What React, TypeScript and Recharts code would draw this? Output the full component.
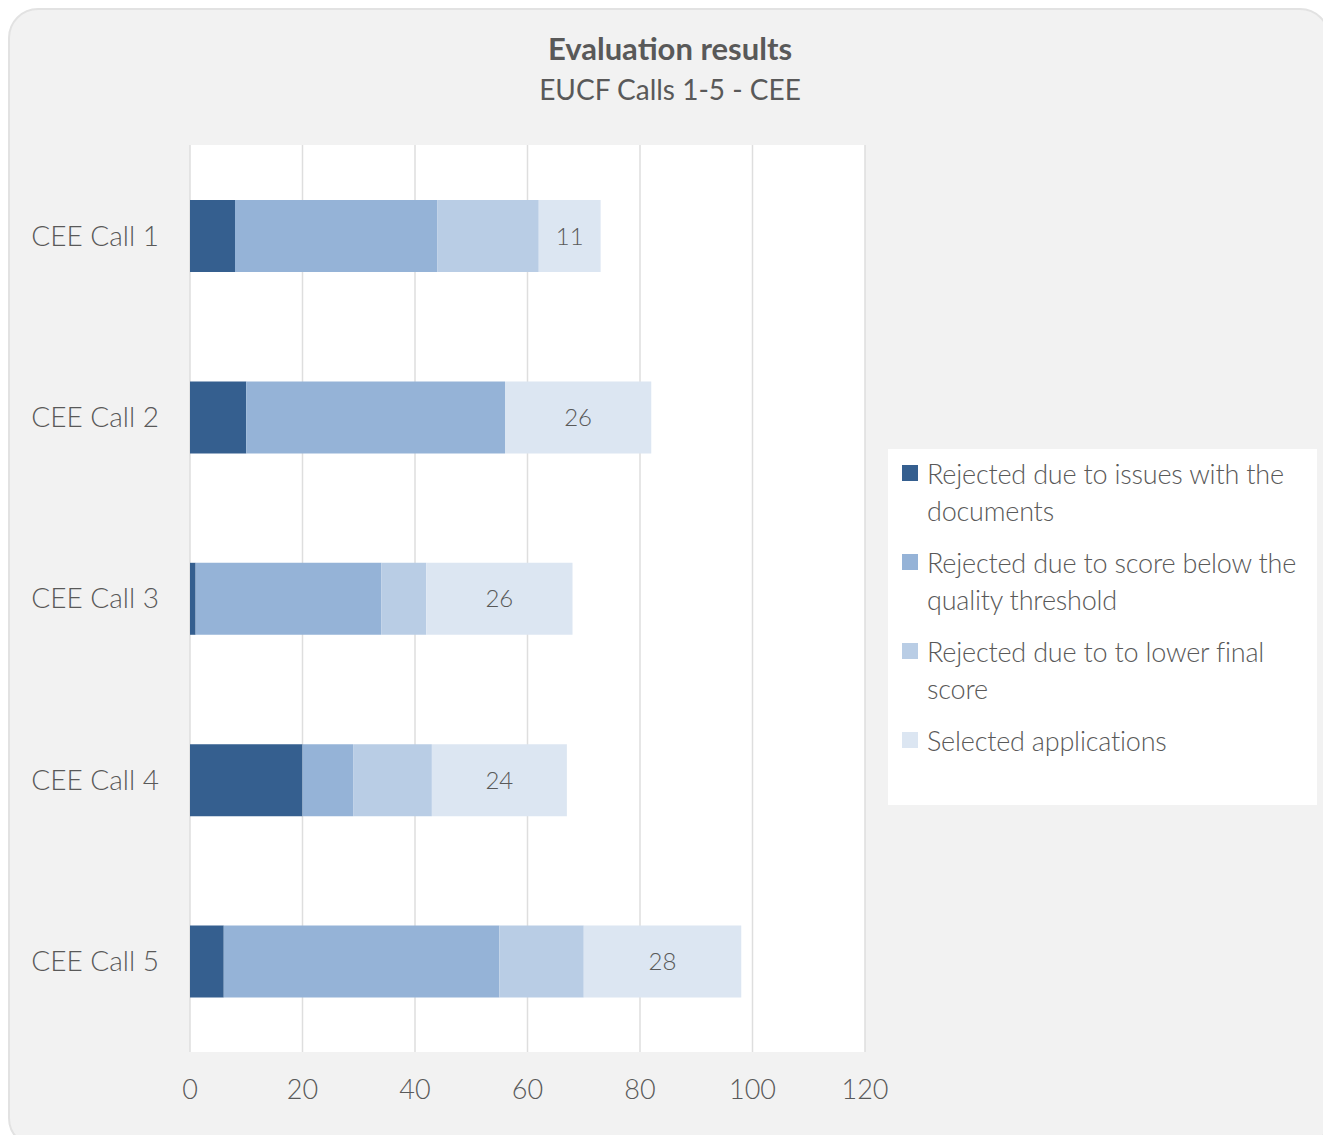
import { Bar, BarChart, CartesianGrid, LabelList, Legend, XAxis, YAxis } from "recharts";

const calls = ["CEE Call 1", "CEE Call 2", "CEE Call 3", "CEE Call 4", "CEE Call 5"];
const rejectedDocs = [8, 10, 1, 20, 6];
const rejectedScore = [36, 46, 33, 9, 49];
const rejectedLower = [18, 0, 8, 14, 15];
const selected = [11, 26, 26, 24, 28];
const xTicks = [0, 20, 40, 60, 80, 100, 120];

const seriesNames = [
  "Rejected due to issues with the documents",
  "Rejected due to score below the quality threshold",
  "Rejected due to to lower final score",
  "Selected applications",
];
const seriesColors = ["#355f8f", "#95b3d7", "#b9cde5", "#dce6f2"];

const FONT = "'Source Sans Pro', Lato, 'Open Sans', sans-serif";
const TEXT = "#595959";

const data = calls.map((c, i) => ({
  call: c,
  docs: rejectedDocs[i],
  score: rejectedScore[i],
  lower: rejectedLower[i],
  selected: selected[i],
}));
const keys = ["docs", "score", "lower", "selected"];

function LegendBox() {
  return (
    <div
      style={{
        background: "#fff",
        width: 429,
        height: 356,
        boxSizing: "border-box",
        padding: "6px 0 0 14px",
        fontFamily: FONT,
        fontWeight: 300,
        fontSize: 27,
        letterSpacing: -0.2,
        lineHeight: "37px",
        color: TEXT,
      }}
    >
      {seriesNames.map((name, i) => (
        <div key={name} style={{ display: "flex", marginBottom: 15 }}>
          <div
            style={{
              width: 16,
              height: 16,
              background: seriesColors[i],
              marginTop: 10,
              marginRight: 9,
              flexShrink: 0,
            }}
          />
          <div style={{ width: 392 }}>{name}</div>
        </div>
      ))}
    </div>
  );
}

export default function App() {
  return (
    <div
      style={{
        position: "relative",
        width: 1322,
        height: 1140,
        boxSizing: "border-box",
        border: "2px solid #e2e2e2",
        borderRadius: 30,
        background: "#f2f2f2",
        fontFamily: FONT,
        color: TEXT,
      }}
    >
      <div
        style={{
          position: "absolute",
          left: 0,
          top: 18,
          width: 1320,
          textAlign: "center",
          fontSize: 28,
          lineHeight: "41px",
        }}
      >
        <div style={{ fontWeight: 700, fontSize: 31 }}>Evaluation results</div>
        <div>EUCF Calls 1-5 - CEE</div>
      </div>
      <div style={{ position: "absolute", left: 0, top: 0 }}>
        <BarChart
          width={1310}
          height={1100}
          data={data}
          layout="vertical"
          margin={{ top: 135, right: 455, bottom: 8, left: 0 }}
          barSize={72}
        >
          <CartesianGrid horizontal={false} fill="#ffffff" stroke="#dedede" strokeWidth={1.5} />
          <XAxis
            type="number"
            domain={[0, 120]}
            ticks={xTicks}
            axisLine={false}
            tickLine={false}
            tickMargin={22}
            height={50}
            tick={{ fill: TEXT, fontSize: 27, fontWeight: 300, fontFamily: FONT }}
          />
          <YAxis
            type="category"
            dataKey="call"
            width={180}
            axisLine={false}
            tickLine={false}
            tickMargin={25}
            tick={{ fill: TEXT, fontSize: 28, fontWeight: 300, fontFamily: FONT }}
          />
          <Legend
            layout="vertical"
            align="center"
            verticalAlign="middle"
            wrapperStyle={{ left: 878, top: 439, width: 429 }}
            content={() => <LegendBox />}
          />
          {keys.map((k, i) => (
            <Bar
              key={k}
              dataKey={k}
              name={seriesNames[i]}
              stackId="a"
              fill={seriesColors[i]}
              isAnimationActive={false}
            >
              {k === "selected" && (
                <LabelList
                  dataKey="selected"
                  position="center"
                  fill={TEXT}
                  style={{ fontSize: 24, fontWeight: 300, fontFamily: FONT }}
                />
              )}
            </Bar>
          ))}
        </BarChart>
      </div>
    </div>
  );
}
